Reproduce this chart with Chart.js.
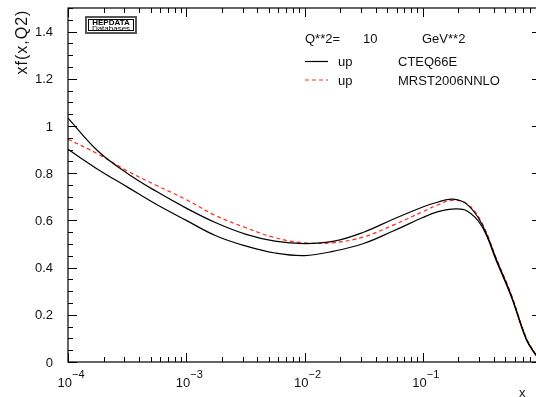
<!DOCTYPE html>
<html>
<head>
<meta charset="utf-8">
<script src="https://cdn.jsdelivr.net/npm/chart.js@4"></script>
<style>
  html, body { margin: 0; padding: 0; background: #fff; overflow: hidden; }
  #wrap { width: 545px; height: 397px; }
</style>
</head>
<body>
<div id="wrap"><canvas id="c" width="545" height="397"></canvas></div>
<script>
// Parton momentum fraction x (log scale)
const xValues = [1e-4, 1.78e-4, 3.16e-4, 5.62e-4, 1e-3, 1.78e-3, 3.16e-3, 5.62e-3,
                 1e-2, 1.78e-2, 3.16e-2, 5.62e-2, 0.1, 0.133, 0.178, 0.237, 0.316,
                 0.422, 0.562, 0.75, 0.891, 1.0];
// xf(x,Q2) for the up quark at Q**2 = 10 GeV**2
const cteqUpper = [1.033, 0.895, 0.80, 0.722, 0.652, 0.59, 0.542, 0.512,
                   0.502, 0.512, 0.55, 0.605, 0.657, 0.677, 0.69, 0.668, 0.585,
                   0.431, 0.28, 0.10, 0.036, 0.005];
const cteqLower = [0.901, 0.817, 0.742, 0.667, 0.60, 0.535, 0.492, 0.462,
                   0.451, 0.47, 0.502, 0.555, 0.612, 0.636, 0.648, 0.64, 0.575,
                   0.425, 0.275, 0.095, 0.033, 0.003];
const mrst      = [0.944, 0.882, 0.81, 0.748, 0.688, 0.62, 0.57, 0.527,
                   0.505, 0.506, 0.53, 0.58, 0.637, 0.665, 0.685, 0.67, 0.59,
                   0.435, 0.285, 0.102, 0.037, 0.005];

const yTickValues = [0, 0.2, 0.4, 0.6, 0.8, 1, 1.2, 1.4];
const xDecades = [-4, -3, -2, -1];
const yTitle = 'xf(x,Q2)';
const xTitle = 'x';
const qLine = ['Q**2=', '10', 'GeV**2'];
const legendParton = ['up', 'up'];
const legendSets = ['CTEQ66E', 'MRST2006NNLO'];

const pts = arr => xValues.map((x, i) => ({ x: x, y: arr[i] }));

const FONT = '"Liberation Sans", Arial, Helvetica, sans-serif';
const INK = '#111';

const framePlugin = {
  id: 'frame',
  afterDraw(chart) {
    const ctx = chart.ctx;
    const a = chart.chartArea;
    const xs = chart.scales.x, ys = chart.scales.y;
    ctx.save();
    ctx.strokeStyle = '#000';
    ctx.lineWidth = 1.2;
    ctx.strokeRect(a.left, a.top, a.right - a.left, a.bottom - a.top);

    // y ticks on left and right, pointing inward
    ctx.lineWidth = 1;
    ctx.beginPath();
    for (let v = 0; v <= 1.5001; v += 0.05) {
      const py = Math.round(ys.getPixelForValue(v)) + 0.5;
      const major = Math.abs(v / 0.2 - Math.round(v / 0.2)) < 1e-6;
      const len = major ? 9 : 5;
      ctx.moveTo(a.left, py); ctx.lineTo(a.left + len, py);
      ctx.moveTo(a.right, py); ctx.lineTo(a.right - len, py);
    }
    // x ticks on bottom and top, pointing inward
    for (let d = -4; d <= 0; d++) {
      for (let m = 1; m <= 9; m++) {
        const v = m * Math.pow(10, d);
        if (v > 1.0001) break;
        const px = Math.round(xs.getPixelForValue(v)) + 0.5;
        const len = m === 1 ? 9 : 5;
        ctx.moveTo(px, a.bottom); ctx.lineTo(px, a.bottom - len);
        ctx.moveTo(px, a.top); ctx.lineTo(px, a.top + len);
      }
    }
    ctx.stroke();

    // y tick labels
    ctx.fillStyle = INK;
    ctx.font = '13px ' + FONT;
    ctx.textAlign = 'right';
    ctx.textBaseline = 'middle';
    yTickValues.forEach(v => {
      ctx.fillText(String(v), 53, ys.getPixelForValue(v) + 1);
    });

    // x tick labels: 10 with superscript exponent
    ctx.textAlign = 'left';
    ctx.textBaseline = 'alphabetic';
    xDecades.forEach(d => {
      const px = xs.getPixelForValue(Math.pow(10, d));
      ctx.font = '13px ' + FONT;
      ctx.fillText('10', px - 10.5, 387);
      const w = ctx.measureText('10').width;
      ctx.font = '11px ' + FONT;
      ctx.fillText(String(d).replace('-', '\u2212'), px - 10.5 + w, 378);
    });

    // axis titles
    ctx.font = '13px ' + FONT;
    ctx.fillText(xTitle, 519, 397);
    ctx.save();
    ctx.translate(27, 42);
    ctx.rotate(-Math.PI / 2);
    ctx.textAlign = 'center';
    ctx.font = '16px ' + FONT;
    if ('letterSpacing' in ctx) ctx.letterSpacing = '1px';
    ctx.fillText(yTitle, 0, 0);
    ctx.restore();

    // HEPDATA badge
    ctx.strokeStyle = '#555';
    ctx.lineWidth = 2;
    ctx.strokeRect(86, 17, 50, 16);
    ctx.strokeStyle = '#000';
    ctx.lineWidth = 1;
    ctx.strokeRect(88.5, 19.5, 45, 11);
    ctx.fillStyle = '#000';
    ctx.textAlign = 'center';
    ctx.font = 'bold 8px ' + FONT;
    ctx.fillText('HEPDATA', 111, 25);
    ctx.font = '8px ' + FONT;
    ctx.fillText('Databases', 111, 30.5);

    // legend block
    ctx.fillStyle = INK;
    ctx.font = '13px ' + FONT;
    ctx.textAlign = 'left';
    ctx.fillText(qLine[0], 305, 43);
    ctx.fillText(qLine[1], 363, 43);
    ctx.fillText(qLine[2], 422, 43);
    const ds = chart.data.datasets;
    [0, 2].forEach((idx, row) => {
      const y = 61.5 + row * 18.5;
      ctx.strokeStyle = ds[idx].borderColor;
      ctx.lineWidth = 1.2;
      ctx.setLineDash(ds[idx].borderDash || []);
      ctx.beginPath();
      ctx.moveTo(305, y); ctx.lineTo(328, y);
      ctx.stroke();
      ctx.setLineDash([]);
      ctx.fillText(legendParton[row], 338, y + 4.5);
      ctx.fillText(legendSets[row], 398, y + 4.5);
    });
    ctx.restore();
  }
};

const lineStyle = { pointRadius: 0, tension: 0.4, borderWidth: 1.2, fill: false };

new Chart(document.getElementById('c'), {
  type: 'line',
  data: {
    datasets: [
      Object.assign({ label: 'CTEQ66E', data: pts(cteqUpper), borderColor: '#000' }, lineStyle),
      Object.assign({ label: 'CTEQ66E', data: pts(cteqLower), borderColor: '#000' }, lineStyle),
      Object.assign({ label: 'MRST2006NNLO', data: pts(mrst), borderColor: '#ff2a1a',
                      borderDash: [4, 3] }, lineStyle)
    ]
  },
  options: {
    responsive: false,
    animation: false,
    devicePixelRatio: 1,
    layout: { padding: { left: 68, right: 4, top: 8, bottom: 35 } },
    plugins: { legend: { display: false }, tooltip: { enabled: false } },
    scales: {
      x: { type: 'logarithmic', min: 1e-4, max: 1, display: false },
      y: { type: 'linear', min: 0, max: 1.5, display: false }
    }
  },
  plugins: [framePlugin]
});
</script>
</body>
</html>
